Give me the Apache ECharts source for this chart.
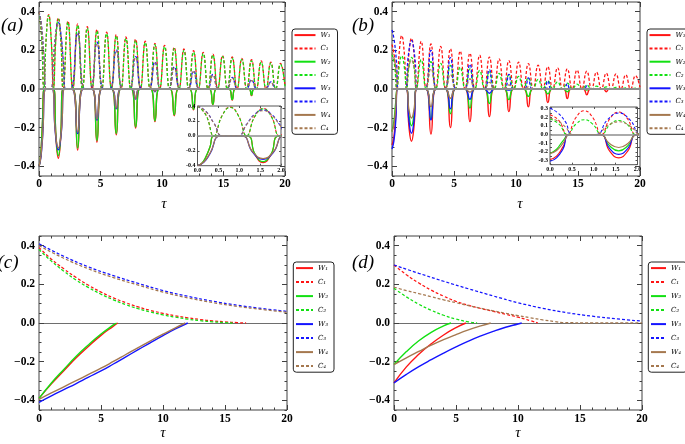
<!DOCTYPE html>
<html><head><meta charset="utf-8">
<script src="https://cdn.jsdelivr.net/npm/echarts@6/dist/echarts.min.js"></script>
<style>html,body{margin:0;padding:0;background:#fff}#c{width:685px;height:444px}</style>
</head><body><div id="c"></div>
<script>
// ================= DATA =================
const NAMES = ['W₁','C₁','W₂','C₂','W₃','C₃','W₄','C₄'];
const mainXTicks = [0,5,10,15,20];
const mainYTicks = [-0.4,-0.2,0,0.2,0.4];
const insetXTicks = [0,0.5,1,1.5,2];
const insetAYTicks = [-0.4,-0.2,0,0.2,0.4];
const insetBYTicks = [-0.3,-0.2,-0.1,0,0.1,0.2,0.3];

// shared sample positions for the fast C1/C2 oscillations, panels (a),(b)
const cosX = [0,0.2,0.393,0.59,0.785,0.98,1.178,1.37,1.571,1.77,1.963,2.356,2.749,3.142,3.534,3.927,4.32,4.712,5.105,5.498,5.89,6.283,6.676,7.069,7.461,7.854,8.247,8.639,9.032,9.425,9.817,10.21,10.603,10.996,11.388,11.781,12.174,12.566,12.959,13.352,13.744,14.137,14.53,14.923,15.315,15.708,16.101,16.493,16.886,17.279,17.671,18.064,18.457,18.85,19.242,19.635,20];

// ---- panel (a)
const aC1 = [0.40,0.283,0,0.272,0.385,0.272,0,0.26,0.368,0.26,0, 0.352,0,0.337,0,0.322,0,0.308,0,0.294,0,0.282,0,0.269,0,0.258,0,0.247,0,0.236,0,0.226,0,0.216,0,0.207,0,0.198,0,0.189,0,0.181,0,0.173,0,0.166,0,0.158,0,0.152,0,0.145,0,0.139,0,0.133,0.015];
const aC2 = [0.40,0.28,0,0.268,0.38,0.268,0,0.256,0.362,0.256,0, 0.345,0,0.33,0,0.315,0,0.3,0,0.287,0,0.274,0,0.262,0,0.25,0,0.24,0,0.229,0,0.219,0,0.209,0,0.2,0,0.191,0,0.183,0,0.175,0,0.167,0,0.16,0,0.153,0,0.146,0,0.14,0,0.134,0,0.128,0.014];
const aLobeX = [0,0.2,0.4,0.6, 0.97,1.17,1.37,1.571,1.77,1.97,2.17, 2.56,3.142,3.72, 4.15,4.712,5.27, 5.74,6.283,6.82, 7.32,7.854,8.38, 8.9,9.425,9.94, 10.5,10.996,11.5, 12.08,12.566,13.06, 13.66,14.137,14.62, 15.24,15.708,16.18, 16.82,17.279,17.74, 18.4,18.85,19.3, 20];
const aC3 = [0.40,0.33,0.165,0, 0,0.15,0.29,0.345,0.29,0.15,0, 0,0.289,0, 0,0.242,0, 0,0.202,0, 0,0.168,0, 0,0.139,0, 0,0.114,0, 0,0.093,0, 0,0.075,0, 0,0.06,0, 0,0.047,0, 0,0.037,0, 0];
const aC4 = [0.40,0.326,0.16,0, 0,0.145,0.283,0.337,0.283,0.145,0, 0,0.282,0, 0,0.235,0, 0,0.196,0, 0,0.162,0, 0,0.134,0, 0,0.109,0, 0,0.088,0, 0,0.07,0, 0,0.056,0, 0,0.043,0, 0,0.033,0, 0];
const aDipX = [0,0.1,0.2,0.3,0.393, 1.18,1.38,1.571,1.76,1.96, 2.76,3.142,3.52, 4.34,4.712,5.08, 5.92,6.283,6.64, 7.5,7.854,8.2, 9.08,9.425,9.77, 10.66,10.996,11.33, 12.25,12.566,12.88, 13.85,14.137,14.42, 15.45,15.708,15.96, 17.07,17.279,17.49, 20];
const aW1 = [-0.40,-0.37,-0.285,-0.15,0, 0,-0.255,-0.358,-0.255,0, 0,-0.316,0, 0,-0.275,0, 0,-0.237,0, 0,-0.202,0, 0,-0.169,0, 0,-0.138,0, 0,-0.108,0, 0,-0.081,0, 0,-0.057,0, 0,-0.034,0, 0];
const aW2 = [-0.40,-0.368,-0.28,-0.145,0, 0,-0.245,-0.345,-0.245,0, 0,-0.305,0, 0,-0.266,0, 0,-0.23,0, 0,-0.196,0, 0,-0.164,0, 0,-0.134,0, 0,-0.105,0, 0,-0.079,0, 0,-0.055,0, 0,-0.032,0, 0];
const aDip2X = [0,0.15,0.3,0.55, 1.07,1.32,1.571,1.82,2.07, 2.68,3.142,3.6, 4.3,4.712,5.12, 5.92,6.283,6.64, 7.55,7.854,8.15, 9.23,9.425,9.62, 20];
const aW3 = [-0.40,-0.355,-0.24,0, 0,-0.22,-0.315,-0.22,0, 0,-0.23,0, 0,-0.162,0, 0,-0.102,0, 0,-0.052,0, 0,-0.014,0, 0];
const aW4 = [-0.40,-0.35,-0.232,0, 0,-0.213,-0.305,-0.213,0, 0,-0.222,0, 0,-0.157,0, 0,-0.098,0, 0,-0.05,0, 0,-0.012,0, 0];

// ---- panel (b)
const bC1 = [0.23,0.165,0,0.195,0.276,0.195,0,0.185,0.262,0.185,0, 0.247,0,0.233,0,0.22,0,0.208,0,0.196,0,0.185,0,0.175,0,0.165,0,0.156,0,0.147,0,0.139,0,0.131,0,0.123,0,0.116,0,0.11,0,0.104,0,0.098,0,0.092,0,0.087,0,0.082,0,0.078,0,0.073,0,0.069,0.008];
const bC2 = [0.18,0.125,0,0.12,0.172,0.12,0,0.115,0.164,0.115,0, 0.152,0,0.141,0,0.132,0,0.122,0,0.113,0,0.104,0,0.096,0,0.089,0,0.081,0,0.073,0,0.065,0,0.058,0,0.05,0,0.044,0,0.037,0,0.031,0,0.025,0,0.02,0,0.015,0,0.011,0,0.008,0,0.006,0,0.004,0];
const bLobeX = [0,0.17,0.35,0.52, 1.05,1.31,1.571,1.83,2.09, 2.64,3.142,3.64, 4.23,4.712,5.19, 5.83,6.283,6.73, 7.43,7.854,8.27, 9.04,9.425,9.8, 10.65,10.996,11.34, 12.26,12.566,12.87, 13.88,14.137,14.39, 15.5,15.708,15.91, 20];
const bC3 = [0.305,0.255,0.15,0, 0,0.17,0.25,0.17,0, 0,0.2,0, 0,0.162,0, 0,0.128,0, 0,0.1,0, 0,0.076,0, 0,0.057,0, 0,0.042,0, 0,0.028,0, 0,0.016,0, 0];
const bC4 = [0.19,0.158,0.09,0, 0,0.1,0.148,0.1,0, 0,0.105,0, 0,0.075,0, 0,0.052,0, 0,0.034,0, 0,0.021,0, 0,0.011,0, 0,0.004,0, 0,0,0, 0,0,0, 0];
const bDipX = [0,0.15,0.3,0.45, 1.15,1.36,1.571,1.78,1.99, 2.73,3.142,3.55, 4.31,4.712,5.11, 5.89,6.283,6.67, 7.47,7.854,8.23, 9.06,9.425,9.79, 10.64,10.996,11.35, 12.23,12.566,12.9, 13.83,14.137,14.44, 15.43,15.708,15.99, 17.05,17.279,17.51, 20];
const bW1 = [-0.29,-0.25,-0.14,0, 0,-0.19,-0.27,-0.19,0, 0,-0.233,0, 0,-0.2,0, 0,-0.169,0, 0,-0.143,0, 0,-0.117,0, 0,-0.092,0, 0,-0.07,0, 0,-0.049,0, 0,-0.03,0, 0,-0.014,0, 0];
const bW2 = [-0.22,-0.17,-0.07,0, 0,-0.13,-0.19,-0.13,0, 0,-0.156,0, 0,-0.128,0, 0,-0.099,0, 0,-0.075,0, 0,-0.055,0, 0,-0.038,0, 0,-0.025,0, 0,-0.014,0, 0,-0.005,0, 0,0,0, 0];
const bW3 = [-0.31,-0.27,-0.165,0, 0,-0.16,-0.229,-0.16,0, 0,-0.16,0, 0,-0.103,0, 0,-0.053,0, 0,-0.022,0, 0,-0.006,0, 0,0,0, 0,0,0, 0,0,0, 0,0,0, 0,0,0, 0];
const bW4 = [-0.22,-0.185,-0.1,0, 0,-0.105,-0.15,-0.105,0, 0,-0.092,0, 0,-0.048,0, 0,-0.016,0, 0,-0.003,0, 0,0,0, 0,0,0, 0,0,0, 0,0,0, 0,0,0, 0,0,0, 0];

// ---- panel (c)
const cC34X = [0,2,4,6,8,10,12,14,16,18,20];
const cC3 = [0.41,0.345,0.29,0.245,0.205,0.168,0.138,0.113,0.092,0.075,0.06];
const cC4 = [0.40,0.335,0.28,0.235,0.196,0.16,0.13,0.106,0.086,0.07,0.055];
const cC1X = [0,1,2,3,4,5,6,7,8,9,10,11,12,13,14,15,16,16.7];
const cC1 = [0.39,0.33,0.28,0.235,0.195,0.16,0.13,0.105,0.083,0.065,0.05,0.037,0.027,0.018,0.011,0.006,0.002,0];
const cC2X = [0,1,2,3,4,5,6,7,8,9,10,11,12,13,14,15,15.6];
const cC2 = [0.38,0.32,0.268,0.222,0.183,0.149,0.12,0.095,0.074,0.057,0.042,0.03,0.02,0.012,0.006,0.002,0];
const cW1X = [0,1,2,3,4,5,6,6.35];
const cW1 = [-0.39,-0.315,-0.247,-0.18,-0.12,-0.064,-0.016,0];
const cW2X = [0,1,2,3,4,5,6,6.25];
const cW2 = [-0.39,-0.31,-0.24,-0.172,-0.112,-0.057,-0.01,0];
const cW3X = [0,1,2,3,4,5,6,7,8,9,10,11,12];
const cW3 = [-0.41,-0.377,-0.345,-0.313,-0.28,-0.248,-0.212,-0.175,-0.138,-0.101,-0.065,-0.031,0];
const cW4X = [0,1,2,3,4,5,6,7,8,9,10,11,11.8];
const cW4 = [-0.395,-0.362,-0.33,-0.298,-0.266,-0.234,-0.199,-0.163,-0.127,-0.092,-0.058,-0.025,0];

// ---- panel (d)
const dC3X = [0,2,4,6,8,10,12,14,16,18,20];
const dC3 = [0.30,0.257,0.216,0.177,0.14,0.105,0.076,0.053,0.035,0.021,0.01];
const dC1X = [0,1,2,3,4,5,6,7,8,9,10,11,11.6];
const dC1 = [0.30,0.25,0.207,0.17,0.139,0.112,0.092,0.075,0.06,0.045,0.03,0.012,0];
const dC4X = [0,1,2,3,4,5,6,7,8,9,10,11,12,13,13.6,16,20];
const dC4 = [0.185,0.168,0.152,0.136,0.12,0.105,0.09,0.076,0.063,0.05,0.038,0.027,0.016,0.007,0.002,0.001,0.001];
const dC2X = [0,1,2,3,4,5,6,6.7];
const dC2 = [0.18,0.135,0.097,0.066,0.04,0.02,0.006,0];
const dW2X = [0,1,2,3,4,4.6];
const dW2 = [-0.215,-0.148,-0.092,-0.048,-0.015,0];
const dW1X = [0,1,2,3,4,5,5.8];
const dW1 = [-0.31,-0.227,-0.162,-0.108,-0.062,-0.024,0];
const dW4X = [0,1,2,3,4,5,6,7,7.8];
const dW4 = [-0.215,-0.18,-0.147,-0.115,-0.086,-0.06,-0.036,-0.015,0];
const dW3X = [0,1,2,3,4,5,6,7,8,9,10,10.3];
const dW3 = [-0.31,-0.266,-0.226,-0.19,-0.156,-0.124,-0.094,-0.067,-0.043,-0.022,-0.005,0];

// ================= BUILD =================
const zip = (xs, ys) => { const n = Math.min(xs.length, ys.length); const o = []; for (let i = 0; i < n; i++) o.push([xs[i], ys[i]]); return o; };

const panelA = [zip(aDipX,aW1), zip(cosX,aC1), zip(aDipX,aW2), zip(cosX,aC2), zip(aDip2X,aW3), zip(aLobeX,aC3), zip(aDip2X,aW4), zip(aLobeX,aC4)];
const panelB = [zip(bDipX,bW1), zip(cosX,bC1), zip(bDipX,bW2), zip(cosX,bC2), zip(bDipX,bW3), zip(bLobeX,bC3), zip(bDipX,bW4), zip(bLobeX,bC4)];
const panelC = [zip(cW1X,cW1), zip(cC1X,cC1), zip(cW2X,cW2), zip(cC2X,cC2), zip(cW3X,cW3), zip(cC34X,cC3), zip(cW4X,cW4), zip(cC34X,cC4)];
const panelD = [zip(dW1X,dW1), zip(dC1X,dC1), zip(dW2X,dW2), zip(dC2X,dC2), zip(dW3X,dW3), zip(dC3X,dC3), zip(dW4X,dW4), zip(dC4X,dC4)];

const SERIF = "'Liberation Serif', 'DejaVu Serif', serif";
const FRAME = '#404040';
const COL = {r:'#ff1414', g:'#12e012', b:'#1414ff', n:'#a5784f'};
const STY = [{c:COL.r,d:0},{c:COL.r,d:1},{c:COL.g,d:0},{c:COL.g,d:1},{c:COL.b,d:0},{c:COL.b,d:1},{c:COL.n,d:0},{c:COL.n,d:1}];

const near = (v, list) => list.some(t => Math.abs(t - v) < 1e-6);
const grid = [], xAxis = [], yAxis = [], series = [];

function addPanel(g, o) {
  const gi = grid.length;
  grid.push(Object.assign({show:true, borderColor:o.frame, borderWidth:1, backgroundColor:'#fff', z:0, zlevel:o.zl}, g));
  const ts = {color:o.frame, width:1};
  const xb = {gridIndex:gi, type:'value', min:o.xMin, max:o.xMax, interval:o.xInt, splitLine:{show:false}, zlevel:o.zl, z:1};
  const xi = xAxis.length;
  const minor = {show:!!o.xMinor, splitNumber:o.xMinor||5, length:o.minorLen, lineStyle:ts};
  xAxis.push(Object.assign({}, xb, {position:'bottom', axisLine:{show:false,onZero:false},
    axisTick:{inside:true,length:o.tickLen,lineStyle:ts}, minorTick:minor,
    axisLabel:{margin:o.xMargin, color:'#000', fontFamily:SERIF, fontWeight:'bold', fontSize:o.fs, formatter:o.xFmt}}));
  xAxis.push(Object.assign({}, xb, {position:'top', axisLine:{show:false,onZero:false},
    axisTick:{inside:true,length:o.tickLen,lineStyle:ts}, minorTick:minor, axisLabel:{show:false}}));
  xAxis.push(Object.assign({}, xb, {position:'bottom', z:o.zeroZ,
    axisLine:{show:true,onZero:true,lineStyle:{color:o.zeroColor,width:o.zeroWidth}}, axisTick:{show:false}, axisLabel:{show:false}}));
  const yb = {gridIndex:gi, type:'value', min:o.yMin, max:o.yMax, interval:o.yInt, splitLine:{show:false}, zlevel:o.zl, z:1, axisLine:{show:false,onZero:false}};
  const yi = yAxis.length;
  yAxis.push(Object.assign({}, yb, {position:'left', axisTick:{inside:true,length:o.yMajor?o.minorLen:o.tickLen,lineStyle:ts},
    axisLabel:{margin:o.yMargin, color:'#000', fontFamily:SERIF, fontWeight:'bold', fontSize:o.fs, formatter:o.yFmt}}));
  yAxis.push(Object.assign({}, yb, {position:'right', axisTick:{inside:true,length:o.yMajor?o.minorLen:o.tickLen,lineStyle:ts}, axisLabel:{show:false}}));
  if (o.yMajor) {
    yAxis.push(Object.assign({}, yb, {position:'left', axisTick:{inside:true,length:o.tickLen,lineStyle:ts,customValues:o.yMajor}, axisLabel:{show:false}}));
    yAxis.push(Object.assign({}, yb, {position:'right', axisTick:{inside:true,length:o.tickLen,lineStyle:ts,customValues:o.yMajor}, axisLabel:{show:false}}));
  }
  o.data.forEach((d, k) => series.push({
    type:'line', name:NAMES[k], xAxisIndex:xi, yAxisIndex:yi, data:d, symbol:'none', showSymbol:false,
    smooth:0.5, clip:true, silent:true, animation:false, zlevel:o.zl, z:2,
    lineStyle:{color:STY[k].c, width:STY[k].d ? o.lw*0.9 : o.lw, type:STY[k].d ? [3,2] : 'solid'},
    itemStyle:{color:STY[k].c}
  }));
}

const mainYFmt = v => near(v, mainYTicks) ? v.toFixed(1).replace('-', '\u2212') : '';
const mainXFmt = v => near(v, mainXTicks) ? String(Math.round(v)) : '';
const mainOpts = {xMin:0, xMax:20, xInt:5, xMinor:5, yMin:-0.45, yMax:0.45, yInt:0.05, yMajor:mainYTicks,
  tickLen:5, minorLen:2.5, fs:11.5, xMargin:2, yMargin:4, xFmt:mainXFmt, yFmt:mainYFmt, frame:FRAME, zl:0, lw:1.4};

addPanel({left:39, top:2, width:246, height:174}, Object.assign({}, mainOpts, {data:panelA, zeroColor:'#8e8e8e', zeroWidth:2, zeroZ:3}));
addPanel({left:392, top:2, width:248, height:174}, Object.assign({}, mainOpts, {data:panelB, zeroColor:'#8e8e8e', zeroWidth:2, zeroZ:3}));
addPanel({left:39, top:236, width:248, height:174}, Object.assign({}, mainOpts, {data:panelC, zeroColor:'#6e6e6e', zeroWidth:1, zeroZ:0, xMargin:3}));
addPanel({left:394, top:236, width:248, height:174}, Object.assign({}, mainOpts, {data:panelD, zeroColor:'#6e6e6e', zeroWidth:1, zeroZ:0, xMargin:3}));

const insetXFmt = v => near(v, insetXTicks) ? v.toFixed(1) : '';
const insetOpts = {xMin:0, xMax:2, xInt:0.5, xMinor:0, tickLen:2, minorLen:1.2, fs:6, xMargin:2, yMargin:2,
  xFmt:insetXFmt, frame:'#555', zl:1, lw:1.2, zeroColor:'#8e8e8e', zeroWidth:1.5, zeroZ:3};
addPanel({left:197.5, top:106, width:83.5, height:59.7}, Object.assign({}, insetOpts, {data:panelA,
  yMin:-0.4, yMax:0.4, yInt:0.2, yFmt:v => near(v, insetAYTicks) ? v.toFixed(1) : ''}));
addPanel({left:550, top:107, width:87.5, height:57.7}, Object.assign({}, insetOpts, {data:panelB,
  yMin:-0.35, yMax:0.32, yInt:0.05, yFmt:v => near(v, insetBYTicks) ? v.toFixed(1) : ''}));

const legendBase = {orient:'vertical', data:NAMES, itemHeight:8, selectedMode:false, borderColor:'#222', borderWidth:1,
  borderRadius:3, backgroundColor:'#fff', itemStyle:{opacity:0, borderWidth:0},
  textStyle:{fontFamily:"'DejaVu Serif', serif", fontStyle:'italic', fontSize:7, color:'#000'}};
const legend = [
  {left:292, top:29, itemWidth:21, itemGap:6.3, padding:[2.6,7,2.6,1.5]},
  {left:647, top:29, itemWidth:21, itemGap:6.3, padding:[2.6,7,2.6,1.5]},
  {left:293.3, top:262, itemWidth:17, itemGap:7, padding:[2.6,6,2.6,1.7]},
  {left:648.3, top:262, itemWidth:15, itemGap:7, padding:[2.6,6,2.6,1.7]}
].map(l => Object.assign({}, legendBase, l));

const txt = (t, x, y, size) => ({type:'text', x:x, y:y, z:50, silent:true,
  style:{text:t, font:'italic ' + size + 'px ' + SERIF, fill:'#000', textAlign:'center', textVerticalAlign:'middle'}});
const graphic = [
  txt('(a)', 12, 25.5, 19), txt('(b)', 363, 25.5, 19), txt('(c)', 8, 262.5, 19), txt('(d)', 363, 262.5, 19),
  txt('\u03C4', 164, 204, 15), txt('\u03C4', 520, 204, 15), txt('\u03C4', 163, 433, 15), txt('\u03C4', 518, 433, 15)
];

const chart = echarts.init(document.getElementById('c'), null, {renderer:'canvas'});
chart.setOption({animation:false, backgroundColor:'#fff', grid, xAxis, yAxis, series, legend, graphic});
</script>
</body></html>
